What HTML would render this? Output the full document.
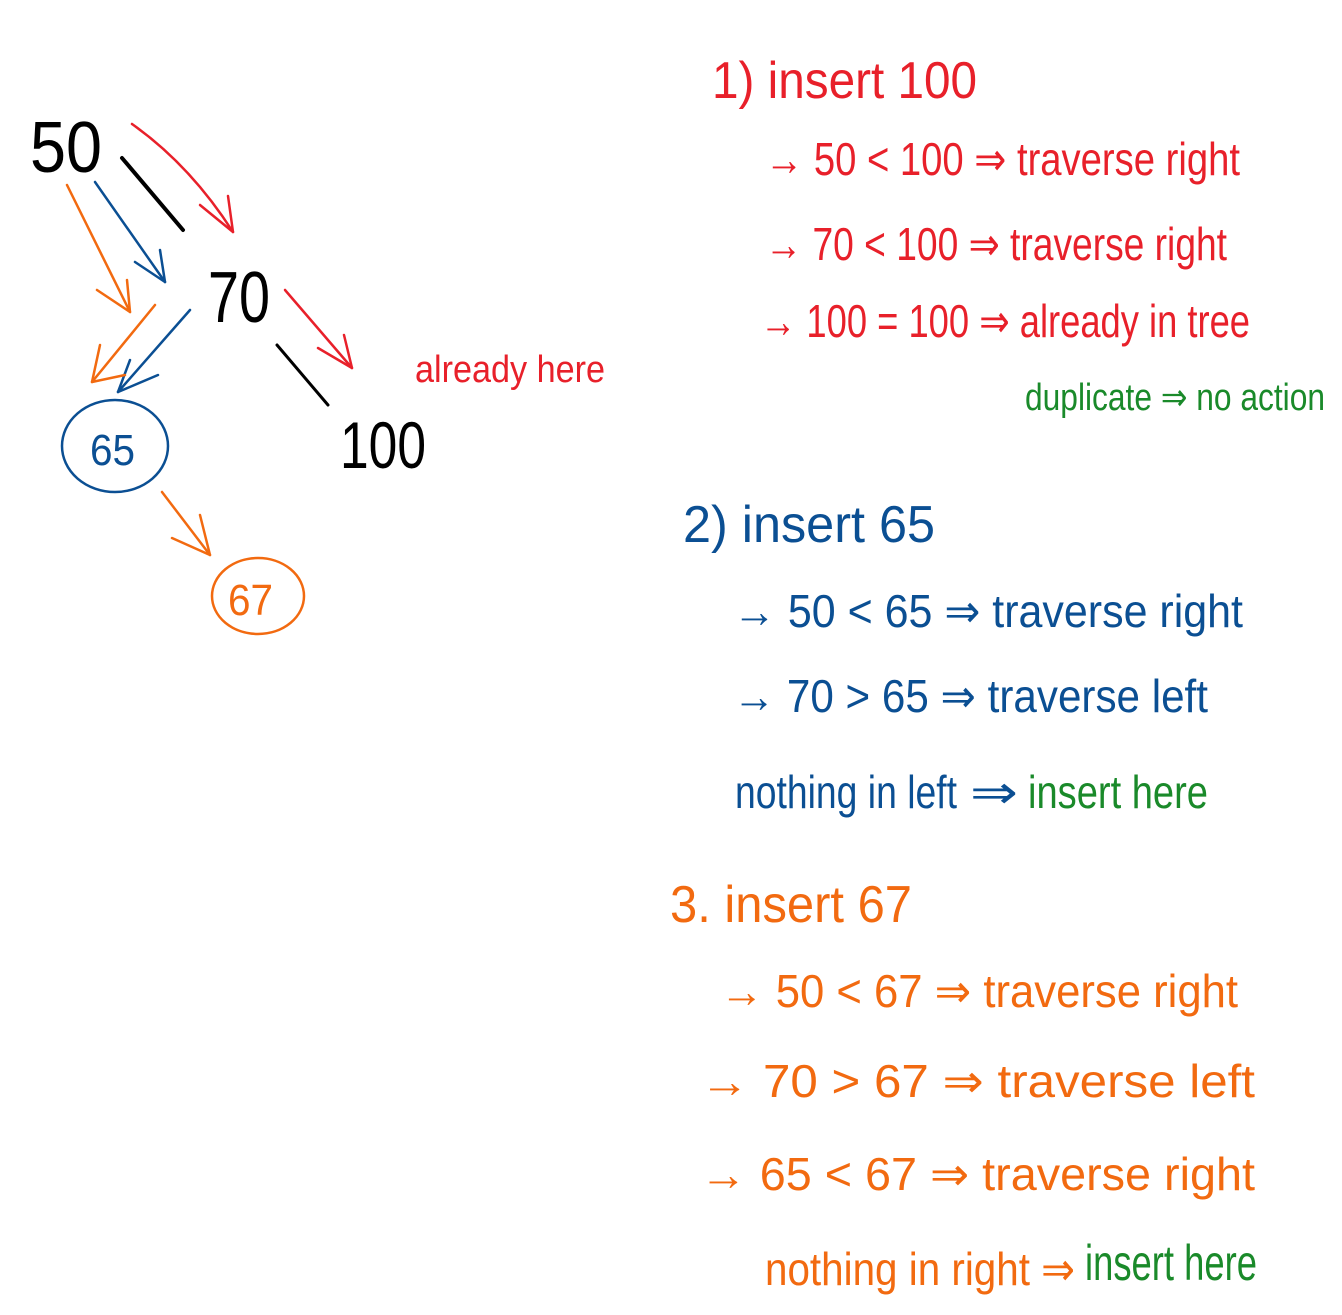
<!DOCTYPE html>
<html><head><meta charset="utf-8"><style>
html,body{margin:0;padding:0;background:#fff;}
svg{display:block}
text{font-family:"Liberation Sans",sans-serif;}
</style></head><body>
<svg width="1342" height="1315" viewBox="0 0 1342 1315" xmlns="http://www.w3.org/2000/svg" fill="none" stroke-linecap="round" stroke-linejoin="round">
<!-- tree numbers -->
<text x="30" y="172" font-size="72" fill="#000" textLength="72" lengthAdjust="spacingAndGlyphs">50</text>
<text x="208" y="322" font-size="72" fill="#000" textLength="62" lengthAdjust="spacingAndGlyphs">70</text>
<text x="340" y="468" font-size="66" fill="#000" textLength="86" lengthAdjust="spacingAndGlyphs">100</text>
<!-- black edges -->
<path d="M122 158 L183 230" stroke="#000" stroke-width="4"/>
<path d="M277 345 L328 405" stroke="#000" stroke-width="3"/>
<!-- red arrows -->
<g stroke="#e8202a" stroke-width="2.5">
<path d="M132 124 Q190 165 233 232"/><path d="M200 205 L233 232 L228 196"/>
<path d="M285 290 L352 368"/><path d="M318 348 L352 368 L344 335"/>
</g>
<!-- blue arrows -->
<g stroke="#0b4f93" stroke-width="2.5">
<path d="M95 182 L165 282"/><path d="M135 262 L165 282 L160 250"/>
<path d="M190 310 L118 392"/><path d="M158 375 L118 392 L130 360"/>
<ellipse cx="115" cy="446" rx="53" ry="46"/>
</g>
<text x="90" y="465" font-size="44" fill="#0b4f93" textLength="45" lengthAdjust="spacingAndGlyphs">65</text>
<!-- orange arrows -->
<g stroke="#f26a10" stroke-width="2.5">
<path d="M67 185 L130 312"/><path d="M97 290 L130 312 L127 280"/>
<path d="M155 305 L92 382"/><path d="M125 375 L92 382 L100 345"/>
<path d="M162 492 L210 555"/><path d="M172 538 L210 555 L200 515"/>
<ellipse cx="258" cy="596" rx="46" ry="38"/>
</g>
<text x="228" y="615" font-size="44" fill="#f26a10" textLength="45" lengthAdjust="spacingAndGlyphs">67</text>
<text x="415" y="382" font-size="38" fill="#e8202a" textLength="190" lengthAdjust="spacingAndGlyphs">already here</text>

<!-- section 1 red -->
<g fill="#e8202a" font-size="52">
<text x="712" y="98" textLength="265" lengthAdjust="spacingAndGlyphs">1) insert 100</text>
<text x="765" y="175" font-size="46" textLength="475" lengthAdjust="spacingAndGlyphs">→ 50 &lt; 100 ⇒ traverse right</text>
<text x="765" y="260" font-size="46" textLength="462" lengthAdjust="spacingAndGlyphs">→ 70 &lt; 100 ⇒ traverse right</text>
<text x="760" y="337" font-size="46" textLength="490" lengthAdjust="spacingAndGlyphs">→ 100 = 100 ⇒ already in tree</text>
</g>
<text x="1025" y="410" font-size="38" fill="#1a8a2a" textLength="300" lengthAdjust="spacingAndGlyphs">duplicate ⇒ no action</text>

<!-- section 2 blue -->
<g fill="#0b4f93">
<text x="683" y="542" font-size="52" textLength="252" lengthAdjust="spacingAndGlyphs">2) insert 65</text>
<text x="733" y="627" font-size="46" textLength="510" lengthAdjust="spacingAndGlyphs">→ 50 &lt; 65 ⇒ traverse right</text>
<text x="733" y="712" font-size="46" textLength="475" lengthAdjust="spacingAndGlyphs">→ 70 &gt; 65 ⇒ traverse left</text>
<text x="735" y="808" font-size="46" textLength="222" lengthAdjust="spacingAndGlyphs">nothing in left</text>
</g>
<text x="970" y="808" font-size="46" fill="#0b4f93" textLength="48" lengthAdjust="spacingAndGlyphs">⇒</text>
<text x="1028" y="808" font-size="46" fill="#1a8a2a" textLength="180" lengthAdjust="spacingAndGlyphs">insert here</text>

<!-- section 3 orange -->
<g fill="#f26a10">
<text x="670" y="922" font-size="52" textLength="242" lengthAdjust="spacingAndGlyphs">3. insert 67</text>
<text x="720" y="1007" font-size="46" textLength="518" lengthAdjust="spacingAndGlyphs">→ 50 &lt; 67 ⇒ traverse right</text>
<text x="700" y="1097" font-size="46" textLength="555" lengthAdjust="spacingAndGlyphs">→ 70 &gt; 67 ⇒ traverse left</text>
<text x="700" y="1190" font-size="46" textLength="555" lengthAdjust="spacingAndGlyphs">→ 65 &lt; 67 ⇒ traverse right</text>
<text x="765" y="1285" font-size="46" textLength="310" lengthAdjust="spacingAndGlyphs">nothing in right ⇒</text>
</g>
<text x="1085" y="1280" font-size="50" fill="#1a8a2a" textLength="172" lengthAdjust="spacingAndGlyphs">insert here</text>
</svg>
</body></html>
